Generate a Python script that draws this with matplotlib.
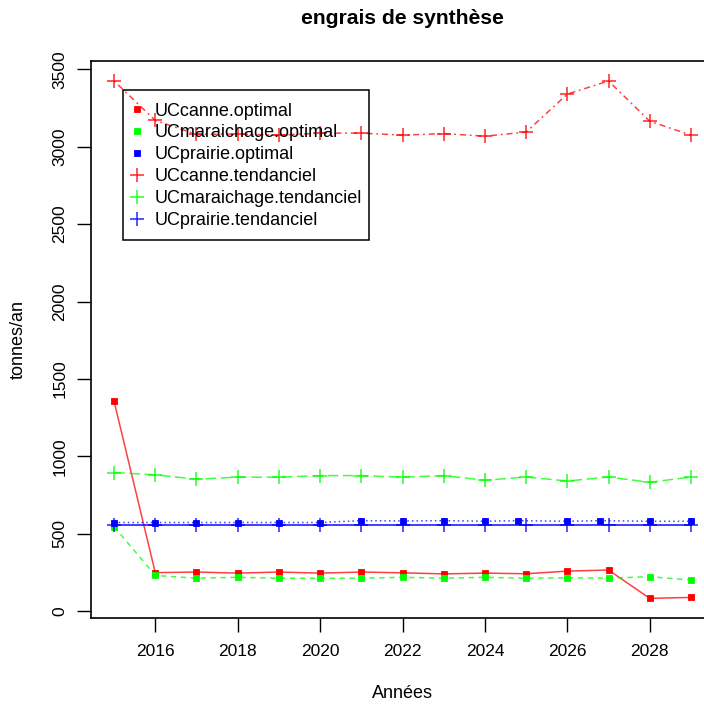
import matplotlib
matplotlib.use("Agg")
import matplotlib.pyplot as plt
from matplotlib.lines import Line2D
from matplotlib.patches import Rectangle

plt.rcParams['font.family'] = ['Liberation Sans', 'DejaVu Sans']

years = [2015, 2016, 2017, 2018, 2019, 2020, 2021, 2022, 2023, 2024, 2025, 2026, 2027, 2028, 2029]
prairie_opt_years = [2015, 2016, 2017, 2018, 2019, 2020, 2021, 2022, 2023, 2024, 2024.8, 2026, 2026.8, 2028, 2029]

canne_opt = [1355, 248, 252, 245, 252, 245, 252, 247, 240, 245, 241, 258, 265, 82, 88]
maraichage_opt = [545, 230, 212, 218, 212, 212, 212, 218, 212, 218, 212, 215, 212, 222, 200]
prairie_opt = [572, 572, 572, 572, 572, 572, 584, 582, 584, 580, 584, 580, 584, 580, 580]
canne_tend = [3425, 3170, 3080, 3082, 3075, 3088, 3088, 3075, 3085, 3068, 3095, 3340, 3425, 3165, 3075]
maraichage_tend = [895, 880, 852, 865, 865, 875, 875, 865, 875, 845, 866, 840, 866, 832, 866]
prairie_tend = [555, 555, 555, 555, 555, 555, 555, 555, 555, 555, 555, 555, 555, 555, 555]

labels = ["UCcanne.optimal", "UCmaraichage.optimal", "UCprairie.optimal",
          "UCcanne.tendanciel", "UCmaraichage.tendanciel", "UCprairie.tendanciel"]
xticks = [2016, 2018, 2020, 2022, 2024, 2026, 2028]
yticks = [0, 500, 1000, 1500, 2000, 2500, 3000, 3500]

RED = (1, 0, 0)
GREEN = (0, 1, 0)
BLUE = (0, 0, 1)

def a(c, al):
    return (c[0], c[1], c[2], al)

fig = plt.figure(figsize=(7.04, 7.04), dpi=100)
ax = fig.add_axes([91/704, 86/704, 623/704, 557/704])

lw = 1.1
sq = dict(marker='s', ms=5, mew=0.6)
pl = dict(marker='+', ms=10, mew=1.1)

ax.plot(years, canne_opt, color=a(RED, 0.75), lw=lw, mfc=RED, mec=RED, **sq)
ax.plot(years, maraichage_opt, color=a(GREEN, 0.75), lw=lw, dashes=(3.5, 3), mfc=GREEN, mec=GREEN, **sq)
ax.plot(prairie_opt_years, prairie_opt, color=a(BLUE, 0.75), lw=lw, dashes=(1, 2), mfc=BLUE, mec=BLUE, **sq)
ax.plot(years, canne_tend, color=a(RED, 0.75), lw=lw, dashes=(1.2, 2.5, 4, 2.5), mec=a(RED, 0.85), **pl)
ax.plot(years, maraichage_tend, color=a(GREEN, 0.75), lw=lw, dashes=(7, 3), mec=a(GREEN, 0.85), **pl)
ax.plot(years, prairie_tend, color=a(BLUE, 0.75), lw=1.4, mec=a(BLUE, 0.85), **pl)

ax.set_xlim(2014.44, 2029.56)
ax.set_ylim(-45, 3554)
ax.set_xticks(xticks)
ax.set_xticklabels([str(t) for t in xticks])
ax.set_yticks(yticks)
ax.set_yticklabels([str(t) for t in yticks], rotation=90, va='center')
ax.tick_params(axis='both', direction='out', length=10, width=1.0, labelsize=12.5, colors='black')
ax.tick_params(axis='x', pad=9)
ax.tick_params(axis='y', pad=7)
for s in ax.spines.values():
    s.set_linewidth(1.2)

ax.set_xlabel("Années", fontsize=13)
ax.xaxis.set_label_coords(0.5, (618 - 693) / 557)
ax.xaxis.label.set_va('center')
ax.set_ylabel("tonnes/an", fontsize=13)
ax.yaxis.set_label_coords((18 - 91) / 623, 0.5)
ax.yaxis.label.set_va('center')

ax.text(0.5, (618 - 18) / 557, "engrais de synthèse", transform=ax.transAxes,
        fontsize=15.2, fontweight='bold', ha='center', va='center')

handles = [
    Line2D([], [], ls='none', color=RED, **sq),
    Line2D([], [], ls='none', color=GREEN, **sq),
    Line2D([], [], ls='none', color=BLUE, **sq),
    Line2D([], [], ls='none', color=a(RED, 0.85), **pl),
    Line2D([], [], ls='none', color=a(GREEN, 0.85), **pl),
    Line2D([], [], ls='none', color=a(BLUE, 0.85), **pl),
]
leg = fig.legend(handles, labels, loc='upper left', bbox_to_anchor=(128/704, 1 - 102.5/704),
                 bbox_transform=fig.transFigure, frameon=False, fontsize=13,
                 borderpad=0, borderaxespad=0, handlelength=1.0, handletextpad=0.5,
                 labelspacing=0.27)

fig.add_artist(Rectangle((122.7/704, 1 - 240/704), (369.3 - 122.7)/704, (240 - 90)/704,
                         transform=fig.transFigure, fill=False, lw=1.1, ec='black'))

fig.savefig("out.png", dpi=100)
